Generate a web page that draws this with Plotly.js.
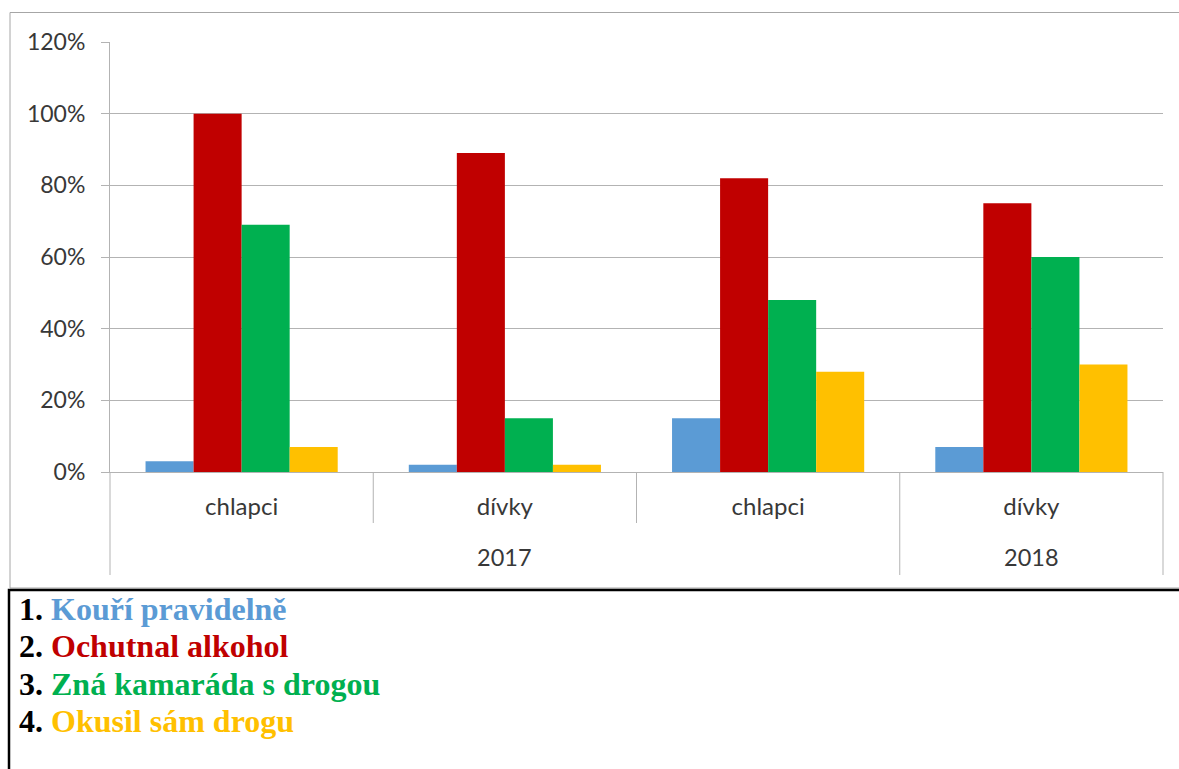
<!DOCTYPE html>
<html><head><meta charset="utf-8">
<script src="https://cdn.plot.ly/plotly-3.0.1.min.js"></script>
<style>html,body{margin:0;padding:0;background:#fff;overflow:hidden}#chart{width:1179px;height:769px}</style>
</head><body><div id="chart"></div>
<script>
// ---- data ----
const categories = ["chlapci", "dívky", "chlapci", "dívky"];
const years = ["2017", "2018"];
const yearSpans = [3, 1];
const seriesNames = ["Kouří pravidelně", "Ochutnal alkohol", "Zná kamaráda s drogou", "Okusil sám drogu"];
const kouri = [0.03, 0.02, 0.15, 0.07];
const alkohol = [1.00, 0.89, 0.82, 0.75];
const kamarad = [0.69, 0.15, 0.48, 0.60];
const okusil = [0.07, 0.02, 0.28, 0.30];
const yTickVals = [0, 0.2, 0.4, 0.6, 0.8, 1.0, 1.2];

// ---- style ----
const colors = ["#5b9bd5", "#c00000", "#00b050", "#ffc000"];
const W = 1179, H = 769;
const M = {l: 110, r: 16, t: 42, b: 297};
const PW = W - M.l - M.r, PH = H - M.t - M.b;
const px2x = px => (px - M.l) / PW;
const px2y = py => (H - M.b - py) / PH;
const gridCol = "#b3b3b3";
const txtCol = "#383838";
const n = categories.length;
const cat2paper = d => (d + 0.5) / n;

const seriesVals = [kouri, alkohol, kamarad, okusil];
const xs = categories.map((c, i) => i);
const traces = seriesVals.map((v, k) => ({
  type: "bar", x: xs, y: v, name: seriesNames[k],
  marker: {color: colors[k], line: {width: 0}},
  hoverinfo: "skip"
}));

const shapes = [];
const annotations = [];
// year boundaries
const yearBounds = [-0.5];
let acc = -0.5;
yearSpans.forEach(s => { acc += s; yearBounds.push(acc); });
for (let i = 0; i <= n; i++) {
  const b = i - 0.5;
  const isYear = yearBounds.some(v => Math.abs(v - b) < 1e-9);
  shapes.push({type: "line", xref: "paper", yref: "paper",
    x0: cat2paper(b), x1: cat2paper(b), y0: 0, y1: px2y(isYear ? 575 : 523),
    line: {color: gridCol, width: 1}});
}
// year labels
let start = -0.5;
years.forEach((yr, i) => {
  const mid = start + yearSpans[i] / 2;
  start += yearSpans[i];
  annotations.push({xref: "paper", yref: "paper", x: cat2paper(mid), y: px2y(557),
    xanchor: "center", yanchor: "middle", showarrow: false, text: yr,
    font: {family: "Lato, sans-serif", size: 23.5, color: txtCol}});
});
// outer chart border
shapes.push({type: "rect", xref: "paper", yref: "paper",
  x0: px2x(10), x1: px2x(1200), y0: px2y(588), y1: px2y(12.5),
  line: {color: "#a6a6a6", width: 1}, layer: "below"});
// legend box
shapes.push({type: "rect", xref: "paper", yref: "paper",
  x0: px2x(9), x1: px2x(1200), y0: px2y(800), y1: px2y(590),
  line: {color: "#000000", width: 2.5}});
// legend lines
const legendY = [609, 646, 684, 721];
seriesNames.forEach((nm, k) => {
  annotations.push({xref: "paper", yref: "paper", x: px2x(17), y: px2y(legendY[k]),
    xanchor: "left", yanchor: "middle", showarrow: false, align: "left",
    text: "<b>" + (k + 1) + ". </b><b><span style=\"color:" + colors[k] + "\">" + nm + "</span></b>",
    font: {family: "Liberation Serif, Times New Roman, serif", size: 32, color: "#000"}});
});

const layout = {
  width: W, height: H, margin: M,
  paper_bgcolor: "#fff", plot_bgcolor: "#fff",
  showlegend: false,
  barmode: "group", bargap: 0.27, bargroupgap: 0,
  font: {family: "Lato, sans-serif", size: 23, color: txtCol},
  xaxis: {range: [-0.5, n - 0.5], tickvals: xs, ticktext: categories,
    showline: true, linecolor: gridCol, linewidth: 1, ticks: "", showgrid: false,
    zeroline: false, ticklabelstandoff: 13, fixedrange: true,
    tickfont: {family: "Lato, sans-serif", size: 24, color: txtCol}},
  yaxis: {range: [0, 1.2], tickvals: yTickVals, tickformat: ".0%",
    showgrid: true, gridcolor: gridCol, gridwidth: 1, zeroline: false,
    showline: true, linecolor: gridCol, linewidth: 1,
    ticks: "outside", ticklen: 8, tickcolor: gridCol, tickwidth: 1,
    ticklabelstandoff: 11, fixedrange: true,
    tickfont: {family: "Lato, sans-serif", size: 23, color: txtCol}},
  shapes: shapes, annotations: annotations
};
Plotly.newPlot("chart", traces, layout, {displayModeBar: false, staticPlot: true});
</script></body></html>
